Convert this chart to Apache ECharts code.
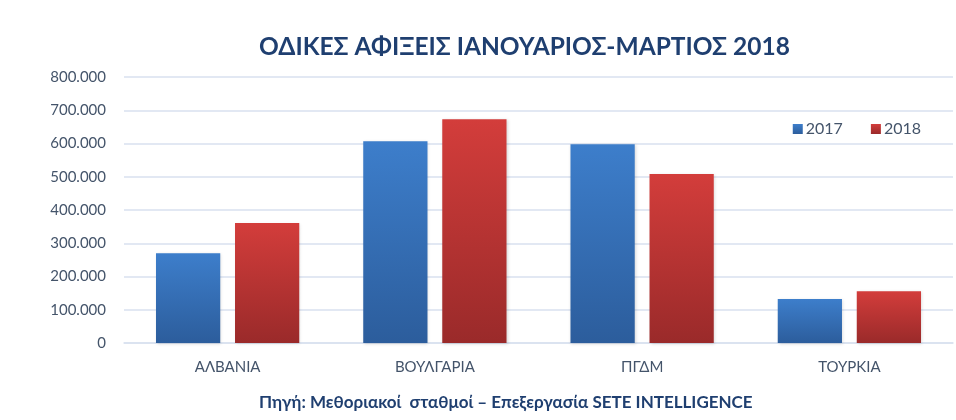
<!DOCTYPE html>
<html>
<head>
<meta charset="utf-8">
<script src="https://cdn.jsdelivr.net/npm/echarts@6/dist/echarts.min.js"></script>
<style>
html,body{margin:0;padding:0;background:#fff;}
#c{width:956px;height:420px;}
</style>
</head>
<body>
<div id="c"></div>
<script>
var titleText = 'ΟΔΙΚΕΣ ΑΦΙΞΕΙΣ ΙΑΝΟΥΑΡΙΟΣ-ΜΑΡΤΙΟΣ 2018';
var sourceText = 'Πηγή: Μεθοριακοί  σταθμοί – Επεξεργασία SETE INTELLIGENCE';
var categories = ['ΑΛΒΑΝΙΑ', 'ΒΟΥΛΓΑΡΙΑ', 'ΠΓΔΜ', 'ΤΟΥΡΚΙΑ'];
var seriesNames = ['2017', '2018'];
var values2017 = [270000, 607000, 598000, 132000];
var values2018 = [361000, 673000, 508000, 156000];
var yMin = 0, yMax = 800000, yStep = 100000;

function fmt(v){
  var s = String(Math.round(v));
  return s.replace(/\B(?=(\d{3})+(?!\d))/g, '.');
}
var textColor = '#44546a';
var fontFam = 'Lato, "Open Sans", sans-serif';
function grad(top, bottom){
  return new echarts.graphic.LinearGradient(0,0,0,1,[{offset:0,color:top},{offset:1,color:bottom}]);
}
var chart = echarts.init(document.getElementById('c'), null, {renderer:'canvas'});
chart.setOption({
  backgroundColor:'#ffffff',
  animation:false,
  title:[{
    text:titleText, left:254, top:30,
    textStyle:{color:'#1f3f70', fontSize:24.5, fontWeight:'bold', fontFamily:fontFam}
  },{
    text:sourceText, left:254, top:389,
    textStyle:{color:'#1f3f70', fontSize:17, fontWeight:'bold', fontFamily:fontFam}
  }],
  legend:{
    data:seriesNames, right:30, top:116, itemWidth:10, itemHeight:10, itemGap:28,
    icon:'rect',
    textStyle:{color:textColor, fontSize:16, fontFamily:fontFam, padding:[0,0,0,-2]}
  },
  grid:{left:124, right:3, top:77, bottom:77, containLabel:false},
  xAxis:{
    type:'category', data:categories,
    axisLine:{show:true, lineStyle:{color:'#d9e1ef', width:1.5}},
    axisTick:{show:false},
    axisLabel:{color:textColor, fontSize:15, fontFamily:fontFam, margin:17}
  },
  yAxis:{
    type:'value', min:yMin, max:yMax, interval:yStep,
    axisLine:{show:false}, axisTick:{show:false},
    splitLine:{lineStyle:{color:'#d9e1ef', width:1.5}},
    axisLabel:{color:textColor, fontSize:15, fontFamily:fontFam, margin:18, formatter:fmt}
  },
  series:[{
    name:seriesNames[0], type:'bar', data:values2017,
    barWidth:'31%', barGap:'23%',
    itemStyle:{color:grad('#3d7ecb','#2c5d9c'), shadowColor:'rgba(0,0,0,0.15)', shadowBlur:3, shadowOffsetX:1, shadowOffsetY:1}
  },{
    name:seriesNames[1], type:'bar', data:values2018,
    barWidth:'31%',
    itemStyle:{color:grad('#d33d3b','#9a2a2a'), shadowColor:'rgba(0,0,0,0.15)', shadowBlur:3, shadowOffsetX:1, shadowOffsetY:1}
  }]
});
</script>
</body>
</html>
